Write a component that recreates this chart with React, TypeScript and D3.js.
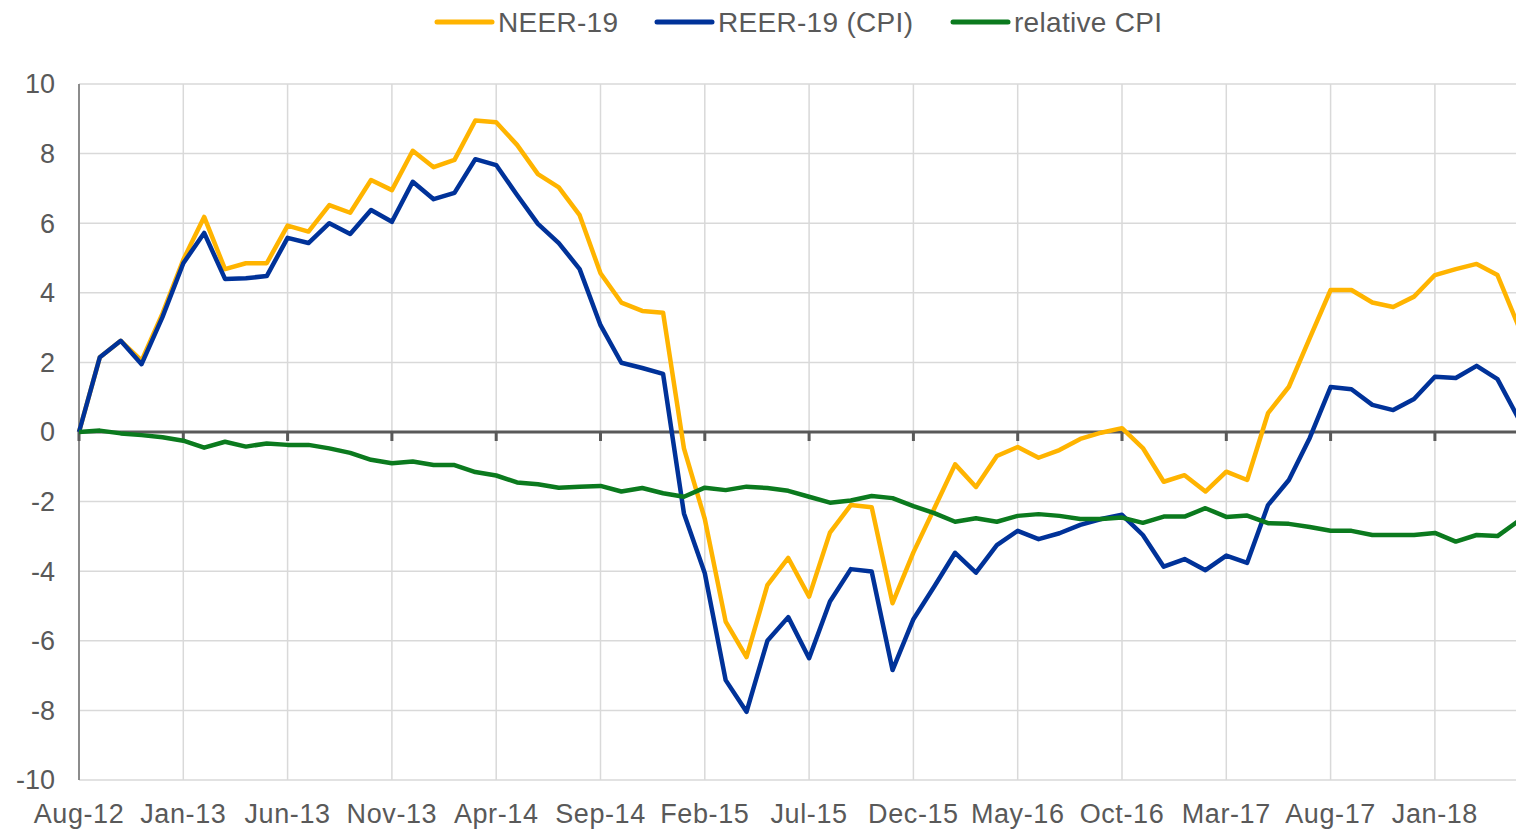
import React from "react";
import * as d3 from "d3";

const tickLabels = ["Aug-12", "Jan-13", "Jun-13", "Nov-13", "Apr-14", "Sep-14", "Feb-15", "Jul-15", "Dec-15", "May-16", "Oct-16", "Mar-17", "Aug-17", "Jan-18"];
const tickStep = 5; // months between labels
const yTicks = [10, 8, 6, 4, 2, 0, -2, -4, -6, -8, -10];

const neer = [0, 2.15, 2.62, 2.05, 3.4, 4.95, 6.18, 4.68, 4.85, 4.85, 5.93, 5.76, 6.52, 6.3, 7.24, 6.95, 8.08, 7.61, 7.82, 8.95, 8.9, 8.25, 7.41, 7.03, 6.23, 4.56, 3.72, 3.48, 3.43, -0.47, -2.5, -5.45, -6.47, -4.4, -3.62, -4.73, -2.89, -2.1, -2.16, -4.92, -3.46, -2.2, -0.93, -1.58, -0.69, -0.43, -0.74, -0.52, -0.2, -0.02, 0.11, -0.46, -1.43, -1.24, -1.71, -1.14, -1.38, 0.54, 1.3, 2.7, 4.08, 4.08, 3.72, 3.59, 3.89, 4.51, 4.68, 4.83, 4.51, 3.05];
const reer = [0, 2.15, 2.62, 1.95, 3.3, 4.85, 5.72, 4.4, 4.42, 4.48, 5.58, 5.43, 6.0, 5.69, 6.38, 6.04, 7.19, 6.69, 6.87, 7.84, 7.67, 6.81, 5.98, 5.43, 4.68, 3.07, 1.99, 1.84, 1.67, -2.34, -4.06, -7.13, -8.04, -6.0, -5.32, -6.5, -4.87, -3.94, -4.01, -6.84, -5.38, -4.44, -3.47, -4.04, -3.25, -2.84, -3.08, -2.91, -2.67, -2.5, -2.38, -2.96, -3.87, -3.65, -3.97, -3.55, -3.76, -2.1, -1.38, -0.17, 1.29, 1.23, 0.78, 0.63, 0.95, 1.59, 1.55, 1.9, 1.52, 0.4];
const relCpi = [0, 0.04, -0.04, -0.09, -0.15, -0.25, -0.45, -0.28, -0.42, -0.33, -0.37, -0.37, -0.47, -0.6, -0.8, -0.9, -0.85, -0.95, -0.95, -1.15, -1.25, -1.45, -1.5, -1.6, -1.57, -1.55, -1.71, -1.61, -1.76, -1.86, -1.6, -1.67, -1.57, -1.61, -1.69, -1.86, -2.03, -1.97, -1.84, -1.9, -2.13, -2.33, -2.58, -2.48, -2.58, -2.41, -2.36, -2.41, -2.5, -2.5, -2.46, -2.61, -2.43, -2.43, -2.19, -2.44, -2.4, -2.62, -2.64, -2.73, -2.84, -2.84, -2.96, -2.96, -2.96, -2.9, -3.15, -2.96, -2.99, -2.56];

const seriesNames = ["NEER-19", "REER-19 (CPI)", "relative CPI"];
const seriesColors = ["#FFB400", "#003299", "#0B7A1E"];

export default function App() {
  const W = 1516, H = 830;
  const left = 79, top = 84, bottom = 780, right = 1516;
  const n = neer.length;
  const x = d3.scaleLinear().domain([0, n - 1]).range([left, left + (n - 1) * 20.86]);
  const y = d3.scaleLinear().domain([-10, 10]).range([bottom, top]);
  const line = d3.line<number>().x((_, i) => x(i)).y((d) => y(d));
  const series = [neer, reer, relCpi];
  const textColor = "#595959";
  const font = "'Liberation Sans', Arial, sans-serif";
  const legendX = [437, 657, 953];

  return (
    <svg width={W} height={H} style={{ position: "absolute", left: 0, top: 0, background: "#fff" }} fontFamily={font}>
      <defs>
        <clipPath id="plot">
          <rect x={left - 5} y={0} width={right - left + 5} height={H} />
        </clipPath>
      </defs>
      {yTicks.map((t) => (
        <line key={"h" + t} x1={left} x2={right} y1={y(t)} y2={y(t)} stroke="#d9d9d9" strokeWidth={1.5} />
      ))}
      {tickLabels.map((l, k) => (
        k > 0 ? <line key={"v" + l} x1={x(k * tickStep)} x2={x(k * tickStep)} y1={top} y2={bottom} stroke="#d9d9d9" strokeWidth={1.5} /> : null
      ))}
      <line x1={left} x2={left} y1={top} y2={bottom} stroke="#8c8c8c" strokeWidth={2} />
      <line x1={left} x2={right} y1={y(0)} y2={y(0)} stroke="#595959" strokeWidth={3} />
      {tickLabels.map((l, k) => (
        <line key={"t" + l} x1={x(k * tickStep)} x2={x(k * tickStep)} y1={y(0)} y2={y(0) + 9} stroke="#595959" strokeWidth={3} />
      ))}
      {yTicks.map((t) => (
        <text key={"yl" + t} x={55} y={y(t)} dy="0.35em" textAnchor="end" fontSize={27} fill={textColor}>{t}</text>
      ))}
      {tickLabels.map((l, k) => (
        <text key={"xl" + l} x={x(k * tickStep)} y={823} textAnchor="middle" fontSize={27} fill={textColor} letterSpacing={0.6}>{l}</text>
      ))}
      <g clipPath="url(#plot)">
        {series.map((s, j) => (
          <path key={"s" + j} d={line(s) || ""} fill="none" stroke={seriesColors[j]} strokeWidth={4.5} strokeLinejoin="round" />
        ))}
      </g>
      {seriesNames.map((name, j) => (
        <g key={"lg" + j}>
          <line x1={legendX[j]} x2={legendX[j] + 55} y1={22} y2={22} stroke={seriesColors[j]} strokeWidth={5} strokeLinecap="round" />
          <text x={legendX[j] + 61} y={22} dy="0.35em" fontSize={28} fill={textColor} letterSpacing={0.3}>{name}</text>
        </g>
      ))}
    </svg>
  );
}
